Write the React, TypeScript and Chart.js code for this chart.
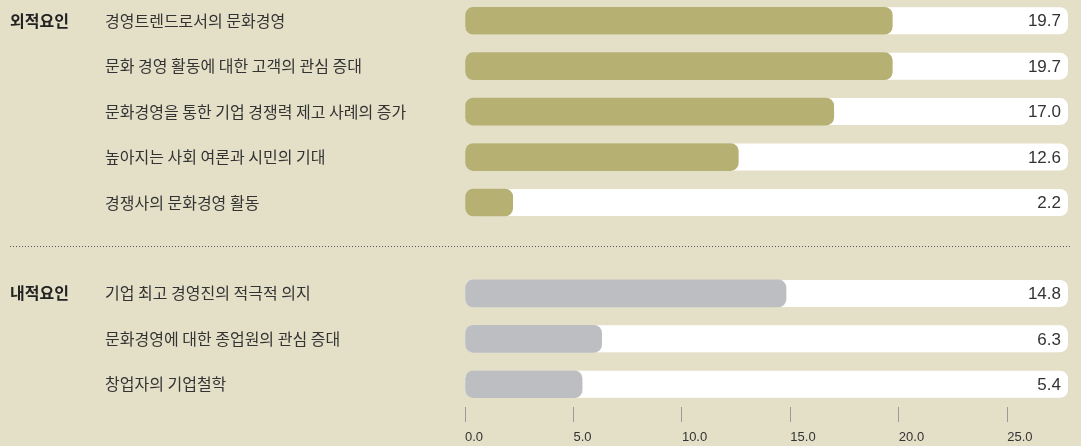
import React, { useEffect, useRef } from "react";
import { Chart, registerables } from "chart.js";

Chart.register(...registerables);

// ---- data ----
const externalGroup = "외적요인";
const internalGroup = "내적요인";

const externalCategories = [
  "경영트렌드로서의 문화경영",
  "문화 경영 활동에 대한 고객의 관심 증대",
  "문화경영을 통한 기업 경쟁력 제고 사례의 증가",
  "높아지는 사회 여론과 시민의 기대",
  "경쟁사의 문화경영 활동",
];
const externalValues = [19.7, 19.7, 17.0, 12.6, 2.2];

const internalCategories = [
  "기업 최고 경영진의 적극적 의지",
  "문화경영에 대한 종업원의 관심 증대",
  "창업자의 기업철학",
];
const internalValues = [14.8, 6.3, 5.4];

const xMin = 0;
const xMax = 27.8;
const xStep = 5;

// ---- styles ----
const BG = "#e4e0c8";
const OLIVE = "#b7b073";
const GRAY = "#bdbec1";
const TEXT = "#333333";
const KR_FONT = "'Noto Sans CJK KR', 'Noto Sans', sans-serif";
const NUM_FONT = "'Liberation Sans', Arial, sans-serif";

export default function App() {
  const ref = useRef<HTMLCanvasElement | null>(null);

  useEffect(() => {
    if (!ref.current) return;
    const categories = [...externalCategories, "", ...internalCategories];
    const values: (number | null)[] = [...externalValues, null, ...internalValues];
    const colors = [
      ...externalValues.map(() => OLIVE),
      "rgba(0,0,0,0)",
      ...internalValues.map(() => GRAY),
    ];
    const sepIndex = externalCategories.length;
    const groups = [
      { index: 0, label: externalGroup },
      { index: sepIndex + 1, label: internalGroup },
    ];

    const decor = {
      id: "decor",
      beforeDatasetsDraw(chart: any) {
        const ctx = chart.ctx as CanvasRenderingContext2D;
        const area = chart.chartArea;
        const x0 = chart.scales.x.getPixelForValue(0);
        const meta = chart.getDatasetMeta(0);
        ctx.save();
        ctx.fillStyle = "#ffffff";
        meta.data.forEach((el: any, i: number) => {
          if (values[i] == null) return;
          const { y, height } = el.getProps(["y", "height"], true);
          ctx.beginPath();
          (ctx as any).roundRect(x0, y - height / 2, area.right - x0, height, 8);
          ctx.fill();
        });
        const ySep = Math.floor(chart.scales.y.getPixelForValue(sepIndex)) - 1 + 0.5;
        ctx.strokeStyle = "#555555";
        ctx.lineWidth = 1;
        ctx.setLineDash([1, 2]);
        ctx.beginPath();
        ctx.moveTo(10, ySep);
        ctx.lineTo(area.right + 2, ySep);
        ctx.stroke();
        ctx.restore();
      },
      afterDatasetsDraw(chart: any) {
        const ctx = chart.ctx as CanvasRenderingContext2D;
        const area = chart.chartArea;
        const meta = chart.getDatasetMeta(0);
        ctx.save();
        ctx.fillStyle = TEXT;
        ctx.textBaseline = "middle";
        ctx.textAlign = "right";
        ctx.font = `17px ${NUM_FONT}`;
        meta.data.forEach((el: any, i: number) => {
          const v = values[i];
          if (v == null) return;
          const { y } = el.getProps(["y"], true);
          ctx.fillText(v.toFixed(1), area.right - 7, y + 1);
        });
        ctx.textAlign = "left";
        ctx.font = `bold 16px ${KR_FONT}`;
        ctx.fillStyle = "#222222";
        groups.forEach((g) => {
          const y = chart.scales.y.getPixelForValue(g.index);
          ctx.fillText(g.label, 10, y);
        });
        ctx.restore();
      },
    };

    const chart = new Chart(ref.current, {
      type: "bar",
      data: {
        labels: categories,
        datasets: [
          {
            data: values as any,
            backgroundColor: colors,
            borderRadius: 8,
            borderSkipped: false,
            barThickness: 27,
          },
        ],
      },
      options: {
        indexAxis: "y",
        responsive: false,
        animation: false,
        devicePixelRatio: 1,
        layout: { padding: { left: 105, right: 13, top: 0, bottom: 0 } },
        plugins: {
          legend: { display: false },
          tooltip: { enabled: false },
        },
        scales: {
          y: {
            type: "category",
            offset: true,
            grid: { display: false },
            border: { display: false },
            afterFit: (scale: any) => {
              scale.width = 360;
              scale.paddingTop = 0;
              scale.paddingBottom = 0;
            },
            ticks: {
              autoSkip: false,
              crossAlign: "far",
              padding: 0,
              color: TEXT,
              font: { family: KR_FONT, size: 16 },
            },
          },
          x: {
            type: "linear",
            min: xMin,
            max: xMax,
            afterFit: (scale: any) => {
              scale.height = 39;
            },
            grid: {
              display: true,
              drawOnChartArea: false,
              drawTicks: true,
              tickLength: 15,
              tickColor: "#9a9a9a",
              lineWidth: 1,
            },
            border: { display: false },
            ticks: {
              stepSize: xStep,
              includeBounds: false,
              align: "start",
              padding: 8,
              maxRotation: 0,
              color: TEXT,
              font: { family: NUM_FONT, size: 13 },
              callback: (v: any) => Number(v).toFixed(1),
            },
          },
        },
      },
      plugins: [decor],
    } as any);

    return () => chart.destroy();
  }, []);

  return (
    <div
      style={{
        position: "fixed",
        left: 0,
        top: 0,
        width: 1081,
        height: 446,
        background: BG,
        overflow: "hidden",
      }}
    >
      <canvas
        ref={ref}
        width={1081}
        height={448}
        style={{ position: "absolute", left: 0, top: -2, display: "block" }}
      />
    </div>
  );
}
